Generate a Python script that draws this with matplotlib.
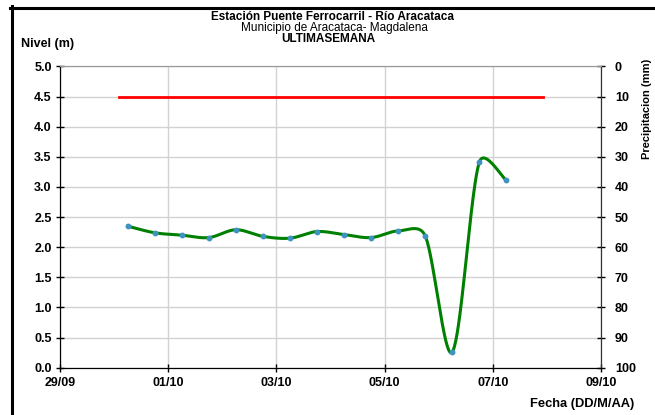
import numpy as np
import pandas as pd
import matplotlib
matplotlib.use('Agg')
import matplotlib.pyplot as plt
import matplotlib.dates as mdates
from matplotlib.lines import Line2D

plt.rcParams['font.family'] = ['Liberation Sans', 'DejaVu Sans']
plt.rcParams['font.weight'] = 'bold'

# Nivel del rio, lecturas cada 12 horas
fechas = ['2013-09-30 06:00', '2013-09-30 18:00', '2013-10-01 06:00', '2013-10-01 18:00',
          '2013-10-02 06:00', '2013-10-02 18:00', '2013-10-03 06:00', '2013-10-03 18:00',
          '2013-10-04 06:00', '2013-10-04 18:00', '2013-10-05 06:00', '2013-10-05 18:00',
          '2013-10-06 06:00', '2013-10-06 18:00', '2013-10-07 06:00']
nivel = [2.35, 2.24, 2.20, 2.16, 2.29, 2.18, 2.15, 2.26, 2.21, 2.16, 2.27, 2.19, 0.26, 3.41, 3.11]

# Linea de alerta
umbral = 4.5
umbral_fechas = ['2013-09-30 02:00', '2013-10-07 22:15']

# Ejes
x_ticks = ['2013-09-29', '2013-10-01', '2013-10-03', '2013-10-05', '2013-10-07', '2013-10-09']
nivel_ticks = [0.0, 0.5, 1.0, 1.5, 2.0, 2.5, 3.0, 3.5, 4.0, 4.5, 5.0]
precip_ticks = [0, 10, 20, 30, 40, 50, 60, 70, 80, 90, 100]


def excel_smooth(ax, x, y, n=40):
    # curva suavizada tipo Excel (bezier sobre coordenadas de pantalla)
    pts = ax.transData.transform(np.column_stack([x, y]))
    P = np.vstack([pts[0], pts, pts[-1]])
    out = []
    t = np.linspace(0, 1, n)[:, None]
    for i in range(1, len(P) - 2):
        p0, p1, p2, p3 = P[i - 1], P[i], P[i + 1], P[i + 2]
        d01 = np.hypot(*(p1 - p0))
        d12 = np.hypot(*(p2 - p1))
        d23 = np.hypot(*(p3 - p2))
        f1 = np.sqrt(min(1, 2 * d12 / (d01 + d12))) / 6
        f2 = np.sqrt(min(1, 2 * d12 / (d12 + d23))) / 6
        c1 = p1 + (p2 - p0) * f1
        c2 = p2 - (p3 - p1) * f2
        seg = (1 - t) ** 3 * p1 + 3 * (1 - t) ** 2 * t * c1 + 3 * (1 - t) * t ** 2 * c2 + t ** 3 * p2
        out.append(seg if i == 1 else seg[1:])
    return ax.transData.inverted().transform(np.vstack(out))


fig = plt.figure(figsize=(6.55, 4.15), dpi=100, facecolor='white')
ax = fig.add_axes([60 / 655, 47.3 / 415, 541 / 655, 301.2 / 415])

xt = mdates.date2num(pd.to_datetime(x_ticks))
ax.set_xlim(xt[0], xt[-1])
ax.set_ylim(0, 5)
ax.set_xticks(xt)
ax.xaxis.set_major_formatter(mdates.DateFormatter('%d/%m'))
ax.set_yticks(nivel_ticks)
ax.yaxis.set_major_formatter(plt.FormatStrFormatter('%.1f'))
ax.grid(True, color='#d2d2d2', lw=1)
ax.set_axisbelow(True)

xn = mdates.date2num(pd.to_datetime(fechas))
curva = excel_smooth(ax, xn, nivel)
ax.plot(curva[:, 0], curva[:, 1], color='#008000', lw=2.2, zorder=3)
ax.plot(xn, nivel, 'o', color='#3e93c0', ms=3.2, zorder=4)

xu = mdates.date2num(pd.to_datetime(umbral_fechas))
ax.plot(xu, [umbral, umbral], color='#ff0000', lw=2, zorder=3)

ax.tick_params(direction='inout', length=6, width=1, labelsize=9, pad=3)
ax.tick_params(axis='x', pad=4)
for s in ['left', 'bottom']:
    ax.spines[s].set_color('black')
ax.spines['top'].set_color('#9a9a9a')

ax2 = ax.twinx()
ax2.set_ylim(100, 0)
ax2.set_yticks(precip_ticks)
ax2.tick_params(direction='inout', length=6, width=1, labelsize=9, pad=7)
ax2.spines['top'].set_color('#9a9a9a')
ax2.spines['right'].set_color('#333333')

# Textos
fig.text(0.507, 1 - 17.5 / 415, 'Estación Puente Ferrocarril - Río Aracataca', ha='center', va='center',
         fontsize=8.5)
fig.text(0.511, 1 - 28.5 / 415, 'Municipio de Aracataca- Magdalena', ha='center', va='center',
         fontsize=8.5, fontweight='normal')
fig.text(0.501, 1 - 39 / 415, 'ULTIMASEMANA', ha='center', va='center', fontsize=8.5)
fig.text(21 / 655, 1 - 44 / 415, 'Nivel (m)', ha='left', va='center', fontsize=9)
fig.text(647 / 655, 1 - 109 / 415, 'Precipitacion (mm)', ha='center', va='center', rotation=90,
         fontsize=8)
fig.text(634 / 655, 1 - 404 / 415, 'Fecha (DD/M/AA)', ha='right', va='center', fontsize=9.3)

# Marco
fig.add_artist(Line2D([11.5 / 655, 11.5 / 655], [0, 1 - 6.5 / 415], transform=fig.transFigure,
                      color='black', lw=2.2))
fig.add_artist(Line2D([10 / 655, 1], [1 - 8 / 415, 1 - 8 / 415], transform=fig.transFigure,
                      color='black', lw=2.2))

fig.savefig('out.png', dpi=100)
